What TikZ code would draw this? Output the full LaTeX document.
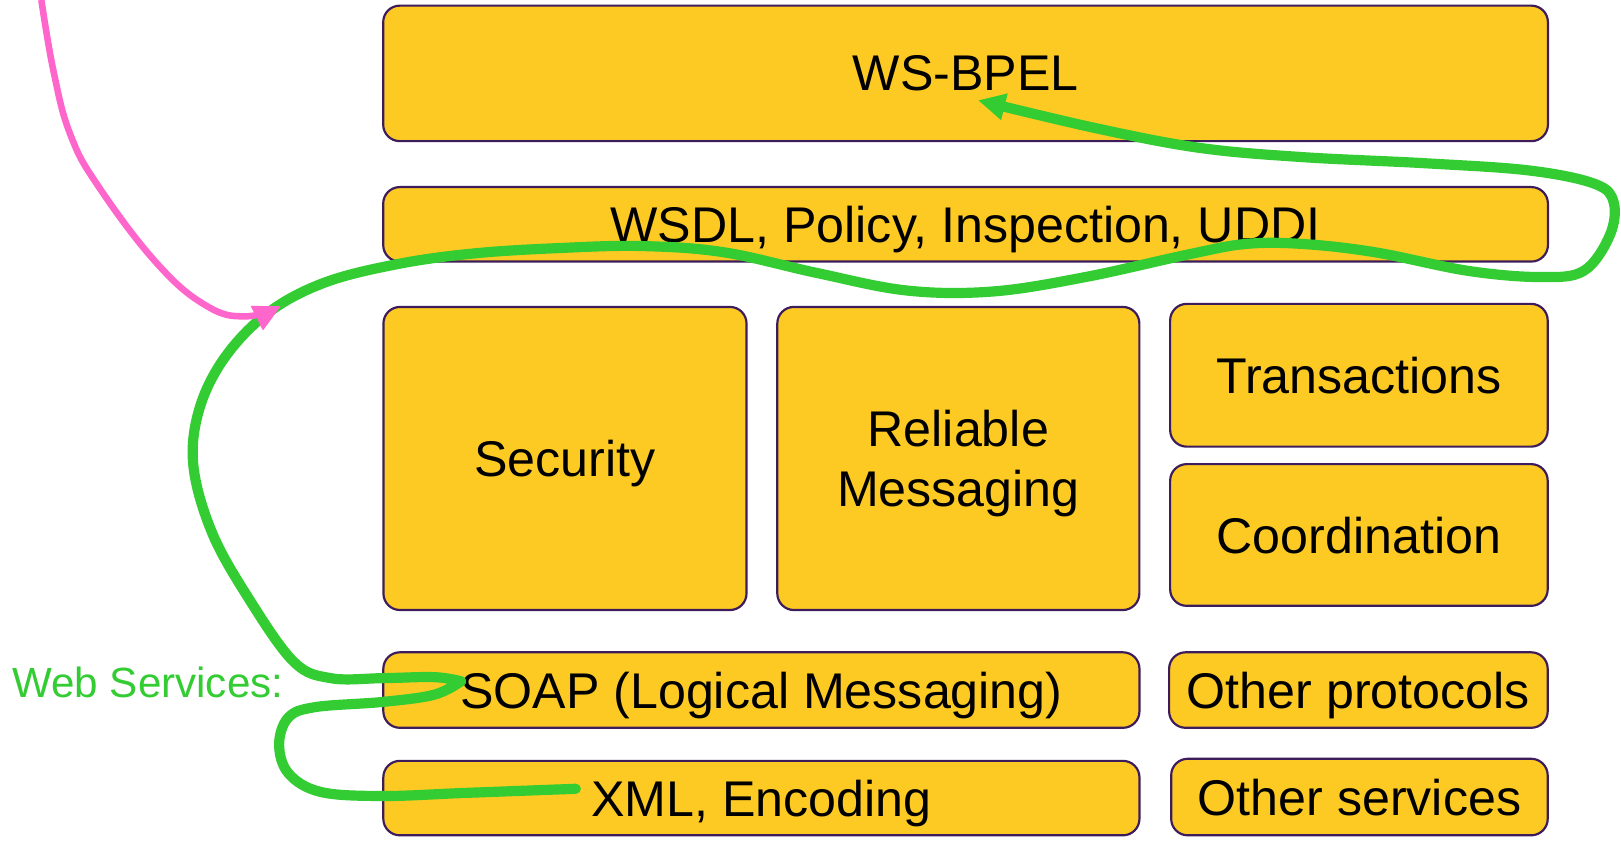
\documentclass[tikz,border=0pt]{standalone}
\usepackage{fontspec}
\setmainfont{Liberation Sans}
\usepackage{tikz}
\usetikzlibrary{arrows.meta}

\definecolor{layerfill}{HTML}{FDCA24}
\definecolor{layerline}{HTML}{3D1C5C}
\definecolor{wsgreen}{HTML}{33CC33}
\definecolor{hintpink}{HTML}{FF66CC}

\begin{document}
\begin{tikzpicture}[x=0.01cm, y=-0.01cm,
				   layer/.style={rectangle, rounded corners=0.16cm, draw=layerline, line width=0.6pt,
				                 fill=layerfill, align=center, inner sep=0pt, text depth=0pt,
				                 font=\fontsize{13.8}{16.6}\selectfont},
				   wsline/.style={draw=wsgreen, line width=2.8pt, line cap=round, line join=round,
				                  -{Triangle[length=7.5pt, width=7pt]}},
				   pinkline/.style={draw=hintpink, line width=1.8pt,
				                    -{Triangle[length=7.5pt, width=7pt]}}]
\fill[white] (0,0) rectangle (1568,813);
\useasboundingbox (0,0) rectangle (1568,813);

\node[layer, minimum width=11.26cm, minimum height=1.31cm] (bpel) at (934,71) {WS-BPEL};
\node[layer, minimum width=11.26cm, minimum height=0.72cm] (wsdl) at (934,217) {WSDL, Policy, Inspection, UDDI};
\node[layer, minimum width=3.51cm, minimum height=2.93cm] (sec) at (546.5,443.5) {Security};
\node[layer, minimum width=3.50cm, minimum height=2.93cm] (rm) at (927,443.5) {Reliable\\Messaging};
\node[layer, minimum width=3.65cm, minimum height=1.38cm] (trans) at (1314.5,363) {Transactions};
\node[layer, minimum width=3.65cm, minimum height=1.37cm] (coord) at (1314.5,517.5) {Coordination};
\node[layer, minimum width=7.31cm, minimum height=0.73cm] (soap) at (736.5,667.5) {SOAP (Logical Messaging)};
\node[layer, minimum width=3.66cm, minimum height=0.73cm] (proto) at (1314,667.5) {Other protocols};
\node[layer, minimum width=7.31cm, minimum height=0.72cm] (xml) at (736.5,772) {XML, Encoding};
\node[layer, minimum width=3.64cm, minimum height=0.74cm] (serv) at (1315,771) {Other services};

\node[text=wsgreen, font=\fontsize{11.6}{14}\selectfont, inner sep=0pt] (wslabel) at (143,660) {Web Services:};

\coordinate (xmlstart) at (557,763);
\coordinate (bpeltip) at (946,97);
\coordinate (pinktop) at (40,0);
\coordinate (pinktip) at (272,296);

\draw[wsline] plot[smooth, tension=0.6] coordinates {(xmlstart) (450,767) (370,770) (310,766) (279,748) (270,720) (279,694) (305,684) (370,679) (420,672) (446,659)}
	-- plot[smooth, tension=0.6] coordinates {(446,659) (420,655) (370,656) (320,656) (284,640) (240,578) (205,515) (187,450) (193,395) (218,345) (260,302) (315,273) (387,255) (460,245) (540,240) (620,238) (700,244) (790,264) (877,281) (960,282) (1050,268) (1150,246) (1205,236) (1260,236) (1330,244) (1420,262) (1490,268) (1532,262) (1557,228) (1561,196) (1543,178) (1480,165) (1380,158) (1260,152) (1160,143) (1060,124) (bpeltip)};

\draw[pinkline] plot[smooth, tension=0.7] coordinates {(pinktop) (52,70) (68,130) (95,180) (152,255) (200,296) (238,306) (pinktip)};
\end{tikzpicture}
\end{document}
